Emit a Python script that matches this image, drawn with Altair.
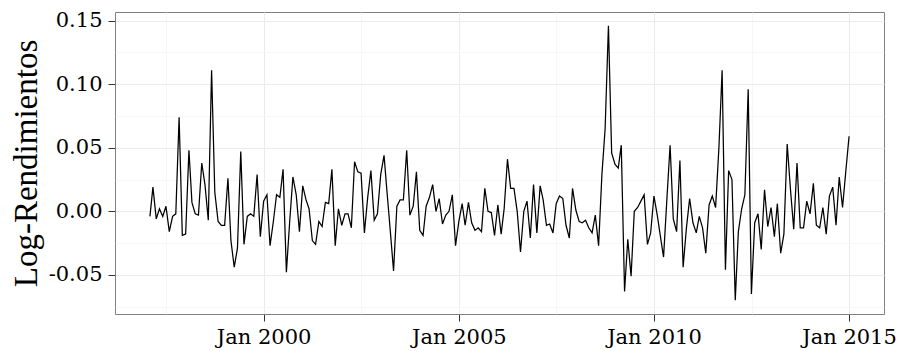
import altair as alt
import pandas as pd

# Monthly log-returns, Feb 1997 .. Jan 2015
start_month = "1997-02-01"
log_returns = [
    -0.004, 0.019, -0.006, 0.002, -0.004, 0.004, -0.016, -0.004, -0.002, 0.074,
    -0.019, -0.018, 0.048, 0.007, -0.002, -0.003, 0.038, 0.021, -0.007, 0.111,
    0.015, -0.008, -0.011, -0.011, 0.026, -0.023, -0.044, -0.029, 0.047, -0.026,
    -0.004, -0.002, -0.004, 0.029, -0.020, 0.008, 0.013, -0.027, -0.008, 0.013,
    0.011, 0.033, -0.048, -0.008, 0.027, 0.013, -0.016, 0.020, 0.009, 0.002,
    -0.023, -0.026, -0.008, -0.012, 0.007, 0.006, 0.033, -0.027, 0.002, -0.011,
    -0.002, -0.002, -0.013, 0.039, 0.031, 0.030, -0.017, 0.011, 0.032, -0.007,
    -0.002, 0.029, 0.044, 0.015, -0.016, -0.047, 0.004, 0.009, 0.009, 0.048,
    -0.003, 0.004, 0.031, -0.015, -0.019, 0.004, 0.011, 0.021, 0.000, 0.010,
    -0.010, -0.003, 0.000, 0.013, -0.027, -0.008, 0.006, -0.011, 0.007, -0.009,
    -0.015, -0.013, -0.016, 0.018, 0.000, -0.001, -0.019, 0.005, -0.018, 0.002,
    0.041, 0.018, 0.018, 0.000, -0.032, 0.000, 0.008, -0.021, 0.021, -0.017,
    0.020, 0.009, -0.011, -0.010, -0.017, 0.006, 0.012, 0.010, -0.011, -0.021,
    0.018, 0.001, -0.008, -0.009, -0.007, -0.013, -0.017, -0.003, -0.027, 0.029,
    0.065, 0.146, 0.046, 0.037, 0.034, 0.052, -0.063, -0.022, -0.051, 0.000,
    0.003, 0.008, 0.013, -0.026, -0.017, 0.012, -0.003, -0.019, -0.036, 0.008,
    0.052, -0.006, -0.016, 0.040, -0.044, -0.013, 0.010, -0.009, -0.017, -0.004,
    -0.013, -0.033, 0.005, 0.012, 0.003, 0.050, 0.111, -0.046, 0.032, 0.025,
    -0.070, -0.016, 0.002, 0.013, 0.096, -0.065, -0.009, -0.002, -0.030, 0.017,
    -0.012, 0.003, -0.020, 0.006, -0.033, -0.018, 0.053, 0.018, -0.014, 0.038,
    -0.013, -0.013, 0.008, -0.002, 0.022, -0.011, -0.013, 0.003, -0.018, 0.012,
    0.019, -0.011, 0.027, 0.003, 0.031, 0.059,
]

x_tick_years = [2000, 2005, 2010, 2015]
x_minor_dates = [(1997, 7, 2, 0), (2002, 7, 2, 12), (2007, 7, 2, 0), (2012, 7, 2, 12)]
y_ticks = [-0.05, 0.0, 0.05, 0.10, 0.15]
y_minor = [-0.075, -0.025, 0.025, 0.075, 0.125]
y_domain = [-0.0808, 0.1568]
x_domain = [(1996, 3, 11), (2015, 11, 24)]

dates = pd.date_range(start_month, periods=len(log_returns), freq="MS").strftime("%Y-%m-%dT00:00:00")
df = pd.DataFrame({"date": dates, "r": log_returns})

TITLE_FONT = "Liberation Serif"
LABEL_FONT = "DejaVu Serif"
xscale = alt.Scale(domain=[alt.DateTime(year=y, month=m, date=d) for (y, m, d) in x_domain])
yscale = alt.Scale(domain=y_domain, nice=False, zero=False)

minor_color = "#f3f3f3"

# Minor grid lines come from a label-less layer with its own axes
minor = alt.Chart(df).mark_line(opacity=0).encode(
    x=alt.X("date:T", scale=xscale, axis=alt.Axis(
        orient="bottom",
        values=[alt.DateTime(year=y, month=m, date=d, hours=h) for (y, m, d, h) in x_minor_dates],
        grid=True, gridColor=minor_color, gridWidth=0.7,
        labels=False, ticks=False, domain=False, title=None)),
    y=alt.Y("r:Q", scale=yscale, axis=alt.Axis(
        orient="left", values=y_minor,
        grid=True, gridColor=minor_color, gridWidth=0.7,
        labels=False, ticks=False, domain=False, title=None)),
)

line = alt.Chart(df).mark_line(color="black", strokeWidth=1.25).encode(
    x=alt.X(
        "date:T",
        scale=xscale,
        axis=alt.Axis(
            orient="bottom",
            values=[alt.DateTime(year=y, month=1, date=1) for y in x_tick_years],
            format="%b %Y",
            title=None,
            grid=True,
            gridColor="#ebebeb",
            gridWidth=1,
            domain=False,
            tickColor="#333333",
            tickSize=7,
            labelFont=LABEL_FONT,
            labelFontSize=21,
            labelColor="black",
            labelPadding=5,
            labelFlush=False,
            labelOverlap=False,
        ),
    ),
    y=alt.Y(
        "r:Q",
        scale=yscale,
        axis=alt.Axis(
            orient="left",
            values=y_ticks,
            labelExpr="(datum.value < 0 ? '-' : '') + format(abs(datum.value), '.2f')",
            title="Log-Rendimientos",
            titleFont=TITLE_FONT,
            titleFontSize=33,
            titleFontWeight="normal",
            titleColor="black",
            titleX=-89,
            titleY=151,
            titleAlign="center",
            titleBaseline="middle",
            titleAngle=270,
            grid=True,
            gridColor="#ebebeb",
            gridWidth=1,
            domain=False,
            tickColor="#333333",
            tickSize=7,
            labelFont=LABEL_FONT,
            labelFontSize=21,
            labelColor="black",
            labelPadding=6,
            labelFlush=False,
            labelOverlap=False,
        ),
    ),
)

chart = alt.layer(minor, line).resolve_axis(x="independent", y="independent").properties(
    width=769,
    height=302,
    padding={"left": 107, "top": 4, "right": 13, "bottom": 37},
    autosize=alt.AutoSizeParams(type="none"),
).configure_view(stroke="#808080", strokeWidth=1)

chart.save("out.html", embed_options={"renderer": "svg", "actions": False})
